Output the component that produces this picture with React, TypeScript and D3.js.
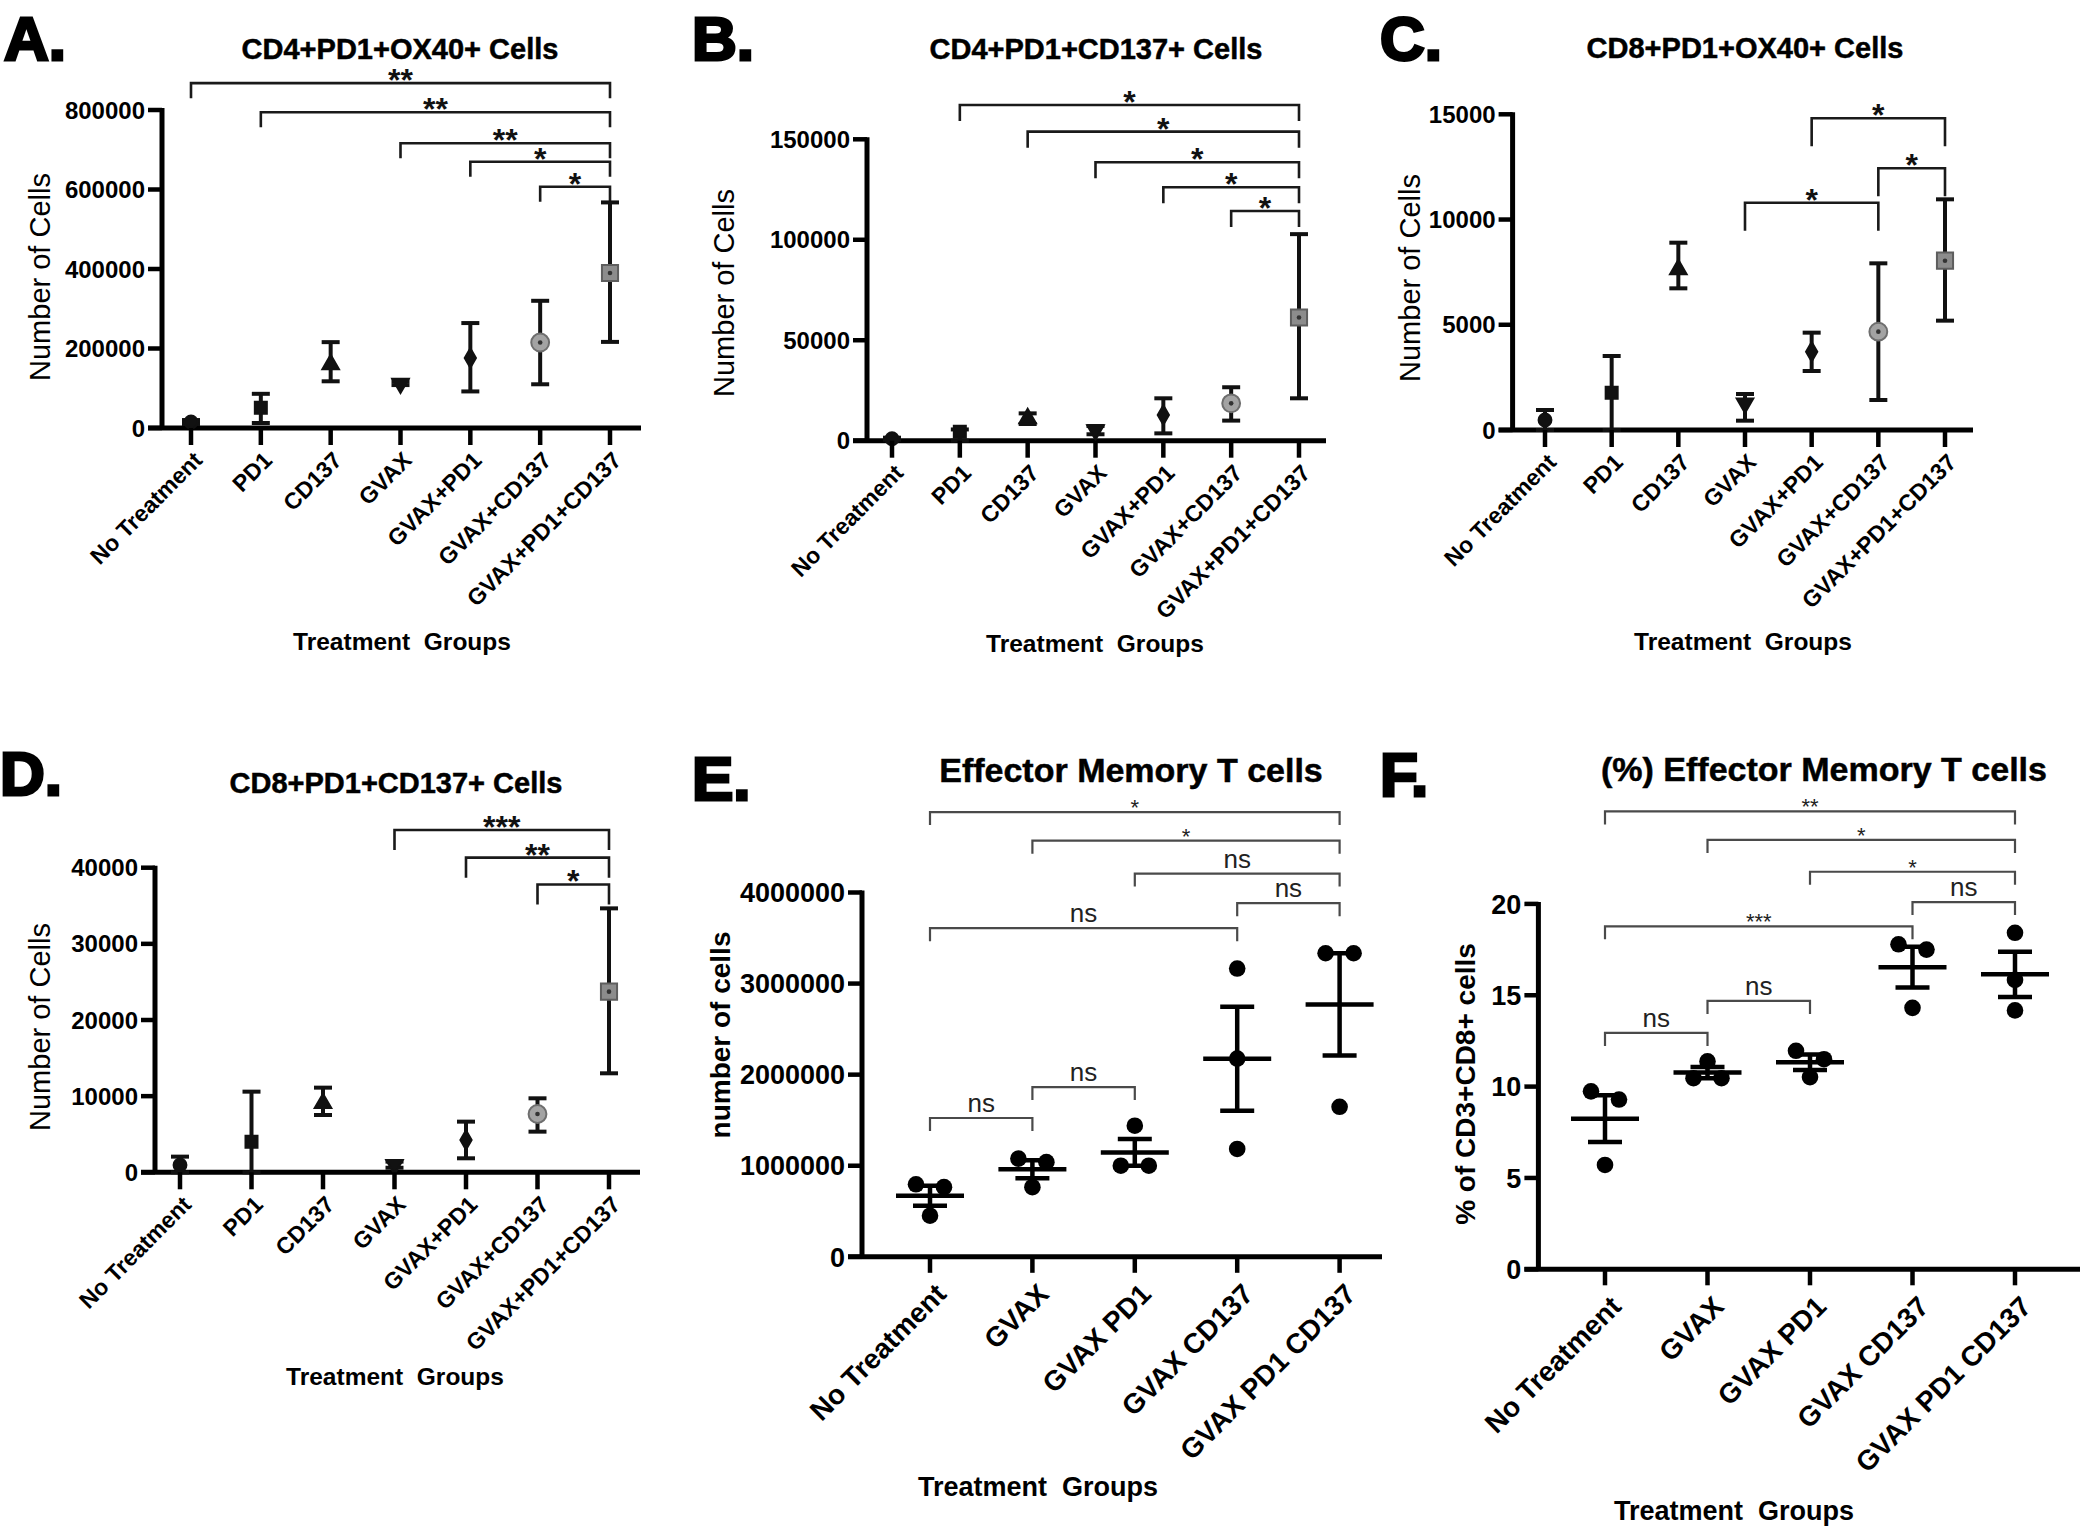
import React from "react";
import * as d3 from "d3";

const FONT = "'Liberation Sans', Arial, Helvetica, sans-serif";

// ---------- categories ----------
const groups7 = ["No Treatment", "PD1", "CD137", "GVAX", "GVAX+PD1", "GVAX+CD137", "GVAX+PD1+CD137"];
const groups5 = ["No Treatment", "GVAX", "GVAX PD1", "GVAX CD137", "GVAX PD1 CD137"];

// ---------- Panel A: CD4+PD1+OX40+ ----------
const aMean = [15000, 51000, 160000, 112000, 176000, 215000, 390000];
const aLow = [10000, 12600, 117500, 108000, 92000, 110000, 216600];
const aHigh = [20000, 86000, 216000, 118000, 264000, 320000, 567500];
const aTicks = [0, 200000, 400000, 600000, 800000];
const aBrackets: [number, number, string, number][] = [
  [0, 6, "**", 867500], [1, 6, "**", 794500], [3, 6, "**", 716400], [4, 6, "*", 670000], [5, 6, "*", 607000],
];

// ---------- Panel B: CD4+PD1+CD137+ ----------
const bMean = [1000, 4500, 11100, 5300, 12800, 18600, 61300];
const bLow = [500, 0, 8300, 3200, 3650, 10000, 21100];
const bHigh = [1500, 5600, 13600, 7300, 21100, 26600, 102800];
const bTicks = [0, 50000, 100000, 150000];
const bBrackets: [number, number, string, number][] = [
  [1, 6, "*", 167100], [2, 6, "*", 153800], [3, 6, "*", 138600], [4, 6, "*", 126100], [5, 6, "*", 114300],
];

// ---------- Panel C: CD8+PD1+OX40+ ----------
const cMean = [475, 1774, 7634, 1267, 3722, 4672, 8045];
const cLow = [0, 0, 6731, 443, 2803, 1425, 5195];
const cHigh = [950, 3516, 8900, 1710, 4625, 7919, 10960];
const cTicks = [0, 5000, 10000, 15000];
const cBrackets: [number, number, string, number][] = [
  [4, 6, "*", 14810], [5, 6, "*", 12434], [3, 5, "*", 10800],
];

// ---------- Panel D: CD8+PD1+CD137+ ----------
const dMean = [963, 4026, 9060, 1000, 4245, 7659, 23720];
const dLow = [0, 0, 7527, 600, 1838, 5339, 13000];
const dHigh = [2057, 10590, 11116, 1400, 6652, 9716, 34660];
const dTicks = [0, 10000, 20000, 30000, 40000];
const dBrackets: [number, number, string, number][] = [
  [3, 6, "***", 44950], [4, 6, "**", 41320], [5, 6, "*", 37800],
];

// ---------- Panel E: Effector Memory T cells (counts) ----------
const eNoTreatment = [796000, 765000, 451000];
const eGvax = [1078000, 1039000, 765000];
const eGvaxPd1 = [1439000, 1000000, 1000000];
const eGvaxCd137 = [3165000, 2176000, 1184000];
const eGvaxPd1Cd137 = [3333000, 3333000, 1647000];
const eTicks = [0, 1000000, 2000000, 3000000, 4000000];
const eBrackets: [number, number, string, number][] = [
  [0, 4, "*", 4883000], [1, 4, "*", 4569000], [2, 4, "ns", 4208000], [3, 4, "ns", 3883000],
  [0, 3, "ns", 3608000], [1, 2, "ns", 1864000], [0, 1, "ns", 1524000],
];

// ---------- Panel F: (%) Effector Memory T cells ----------
const fNoTreatment = [9.74, 9.29, 5.71];
const fGvax = [11.38, 10.46, 10.46];
const fGvaxPd1 = [11.96, 11.5, 10.52];
const fGvaxCd137 = [17.79, 17.5, 14.31];
const fGvaxPd1Cd137 = [18.42, 15.84, 14.17];
const fTicks = [0, 5, 10, 15, 20];
const fBrackets: [number, number, string, number][] = [
  [0, 4, "**", 25.06], [1, 4, "*", 23.5], [2, 4, "*", 21.76], [3, 4, "ns", 20.1],
  [0, 3, "***", 18.77], [1, 2, "ns", 14.69], [0, 1, "ns", 12.94],
];

// ---------- layouts ----------
const layoutA = { letter: "A.", letterX: 4, letterY: 60, title: "CD4+PD1+OX40+ Cells", titleX: 400, titleY: 59, x0: 162, y0: 428, yTop: 110, xFirst: 191, xLast: 610, xEnd: 641, ylabX: 40, ylabY: 277, xtX: 402, xtY: 650, leg: 15 };
const layoutB = { letter: "B.", letterX: 692, letterY: 60, title: "CD4+PD1+CD137+ Cells", titleX: 1096, titleY: 59, x0: 867, y0: 440.7, yTop: 139.3, xFirst: 892, xLast: 1299, xEnd: 1326, ylabX: 724, ylabY: 293, xtX: 1095, xtY: 652, leg: 16 };
const layoutC = { letter: "C.", letterX: 1380, letterY: 60, title: "CD8+PD1+OX40+ Cells", titleX: 1745, titleY: 58, x0: 1512.6, y0: 430, yTop: 114.3, xFirst: 1545, xLast: 1945, xEnd: 1973, ylabX: 1410, ylabY: 278, xtX: 1743, xtY: 650, leg: 28 };
const layoutD = { letter: "D.", letterX: 0, letterY: 795, title: "CD8+PD1+CD137+ Cells", titleX: 396, titleY: 793, x0: 155, y0: 1172.3, yTop: 867.7, xFirst: 180, xLast: 609, xEnd: 640, ylabX: 40, ylabY: 1027, xtX: 395, xtY: 1385, leg: 20 };
const layoutE = { letter: "E.", letterX: 692, letterY: 800, title: "Effector Memory T cells", titleX: 1131, titleY: 782, x0: 862, y0: 1256.8, yTop: 892.5, xFirst: 930, xLast: 1339.6, xEnd: 1382, ylabX: 720, ylabY: 1035, ylabel: "number of cells", xtX: 1038, xtY: 1496, leg: 13 };
const layoutF = { letter: "F.", letterX: 1380, letterY: 796, title: "(%) Effector Memory T cells", titleX: 1824, titleY: 781, x0: 1538.4, y0: 1269.3, yTop: 903.9, xFirst: 1605, xLast: 2015, xEnd: 2080, ylabX: 1465, ylabY: 1084, ylabel: "% of CD3+CD8+ cells", xtX: 1734, xtY: 1520, leg: 13 };

const markerStyles = [
  { type: d3.symbolCircle, size: 130, fill: "#111", stroke: "#111", rot: 0, dot: false },
  { type: d3.symbolSquare, size: 144, fill: "#111", stroke: "#111", rot: 0, dot: false },
  { type: d3.symbolTriangle, size: 120, fill: "#111", stroke: "#111", rot: 0, dot: false },
  { type: d3.symbolTriangle, size: 120, fill: "#111", stroke: "#111", rot: 180, dot: false },
  { type: d3.symbolDiamond, size: 110, fill: "#111", stroke: "#111", rot: 0, dot: false },
  { type: d3.symbolCircle, size: 250, fill: "#a3a3a3", stroke: "#6e6e6e", rot: 0, dot: true },
  { type: d3.symbolSquare, size: 260, fill: "#8c8c8c", stroke: "#5e5e5e", rot: 0, dot: true },
];

function PanelFrame({ L, ticks, y, big }: any) {
  const tickFs = big ? 27 : 24;
  return (
    <g>
      <text x={L.letterX} y={L.letterY} fontSize={62} fontWeight={900} fill="#000" stroke="#000" strokeWidth={3}>{L.letter}</text>
      <text x={L.titleX} y={L.titleY} fontSize={big ? 34 : 29} fontWeight="bold" textAnchor="middle"
        stroke="#000" strokeWidth={0.5}>{L.title}</text>
      <line x1={L.x0} x2={L.x0} y1={L.y0} y2={L.yTop - 2} stroke="#000" strokeWidth={5} />
      <line x1={L.x0 - 14} x2={L.xEnd} y1={L.y0} y2={L.y0} stroke="#000" strokeWidth={5} />
      {ticks.map((t: number) => (
        <g key={t}>
          <line x1={L.x0 - 14} x2={L.x0} y1={y(t)} y2={y(t)} stroke="#000" strokeWidth={4.5} />
          <text x={L.x0 - 17} y={y(t)} dy="0.36em" fontSize={tickFs} fontWeight="bold" textAnchor="end">{d3.format("d")(t)}</text>
        </g>
      ))}
      <text transform={`translate(${L.ylabX},${L.ylabY}) rotate(-90)`} textAnchor="middle" dy="0.35em"
        fontSize={big ? 28 : 29} fontWeight={big ? "bold" : "normal"}>{L.ylabel || "Number of Cells"}</text>
      <text x={L.xtX} y={L.xtY} fontSize={big ? 27 : 24.5} fontWeight="bold" textAnchor="middle" style={{ whiteSpace: "pre" }}>{"Treatment  Groups"}</text>
    </g>
  );
}

function Brackets({ list, x, y, L, big, cats }: any) {
  return (
    <g>
      {list.map((b: any, i: number) => {
        const xl = x(cats[b[0]]);
        const xr = x(cats[b[1]]);
        const yb = y(b[3]);
        const isNs = b[2] === "ns";
        return (
          <g key={i}>
            <path d={`M${xl},${yb + L.leg}V${yb}H${xr}V${yb + L.leg}`} fill="none"
              stroke={big ? "#4a4a4a" : "#1a1a1a"} strokeWidth={big ? 2.2 : 2.6} />
            {big ? (
              <text x={(xl + xr) / 2} y={isNs ? yb - 6 : yb + 3} textAnchor="middle"
                fontSize={isNs ? 26 : 22} fill="#222">{b[2]}</text>
            ) : (
              <text x={(xl + xr) / 2} y={yb + 8} textAnchor="middle" fontSize={32} fontWeight="bold" fill="#111">{b[2]}</text>
            )}
          </g>
        );
      })}
    </g>
  );
}

function SummaryPanel({ L, means, lows, highs, ticks, brackets }: any) {
  const x = d3.scalePoint<string>().domain(groups7).range([L.xFirst, L.xLast]);
  const y = d3.scaleLinear().domain([0, ticks[ticks.length - 1]]).range([L.y0, L.yTop]);
  return (
    <g>
      <PanelFrame L={L} ticks={ticks} y={y} big={false} />
      <Brackets list={brackets} x={x} y={y} L={L} big={false} cats={groups7} />
      {groups7.map((g, i) => {
        const cx = x(g)!;
        const m = markerStyles[i];
        const path = d3.symbol().type(m.type).size(m.size)()!;
        return (
          <g key={g}>
            <line x1={cx} x2={cx} y1={y(lows[i])} y2={y(highs[i])} stroke="#111" strokeWidth={4} />
            <line x1={cx - 9} x2={cx + 9} y1={y(lows[i])} y2={y(lows[i])} stroke="#111" strokeWidth={4} />
            <line x1={cx - 9} x2={cx + 9} y1={y(highs[i])} y2={y(highs[i])} stroke="#111" strokeWidth={4} />
            <path d={path} transform={`translate(${cx},${y(means[i])}) rotate(${m.rot})`} fill={m.fill} stroke={m.stroke} strokeWidth={2} />
            {m.dot && <circle cx={cx} cy={y(means[i])} r={2.3} fill="#333" />}
          </g>
        );
      })}
      {groups7.map((g) => {
        const cx = x(g)!;
        return (
          <g key={"t" + g}>
            <line x1={cx} x2={cx} y1={L.y0} y2={L.y0 + 17} stroke="#000" strokeWidth={4.5} />
            <text transform={`translate(${cx + 7},${L.y0 + 28}) rotate(-45)`} textAnchor="end" dy="0.35em"
              fontSize={23} fontWeight="bold">{g}</text>
          </g>
        );
      })}
    </g>
  );
}

function spread(values: number[], y: (v: number) => number) {
  // horizontal offsets for points that overlap vertically (higher value to the left)
  const order = values.map((v, i) => i).sort((a, b) => values[b] - values[a]);
  const offsets = new Array(values.length).fill(0);
  let cluster: number[] = [order[0]];
  const flush = () => {
    const n = cluster.length;
    cluster.forEach((idx, k) => { offsets[idx] = (k - (n - 1) / 2) * 28; });
  };
  for (let k = 1; k < order.length; k++) {
    const prev = order[k - 1], cur = order[k];
    if (Math.abs(y(values[prev]) - y(values[cur])) < 16) cluster.push(cur);
    else { flush(); cluster = [cur]; }
  }
  flush();
  return offsets;
}

function ScatterPanel({ L, series, ticks, brackets }: any) {
  const x = d3.scalePoint<string>().domain(groups5).range([L.xFirst, L.xLast]);
  const y = d3.scaleLinear().domain([0, ticks[ticks.length - 1]]).range([L.y0, L.yTop]);
  return (
    <g>
      <PanelFrame L={L} ticks={ticks} y={y} big={true} />
      <Brackets list={brackets} x={x} y={y} L={L} big={true} cats={groups5} />
      {groups5.map((g, i) => {
        const cx = x(g)!;
        const vals: number[] = series[i];
        const mean = d3.mean(vals)!;
        const sem = d3.deviation(vals)! / Math.sqrt(vals.length);
        const offs = spread(vals, y);
        return (
          <g key={g}>
            {vals.map((v, k) => (
              <circle key={k} cx={cx + offs[k]} cy={y(v)} r={8.3} fill="#000" />
            ))}
            <line x1={cx - 34} x2={cx + 34} y1={y(mean)} y2={y(mean)} stroke="#000" strokeWidth={4.5} />
            <line x1={cx} x2={cx} y1={y(mean - sem)} y2={y(mean + sem)} stroke="#000" strokeWidth={4.5} />
            <line x1={cx - 17} x2={cx + 17} y1={y(mean - sem)} y2={y(mean - sem)} stroke="#000" strokeWidth={4.5} />
            <line x1={cx - 17} x2={cx + 17} y1={y(mean + sem)} y2={y(mean + sem)} stroke="#000" strokeWidth={4.5} />
            <line x1={cx} x2={cx} y1={L.y0} y2={L.y0 + 16} stroke="#000" strokeWidth={4.5} />
            <text transform={`translate(${cx + 11},${L.y0 + 32}) rotate(-45)`} textAnchor="end" dy="0.35em"
              fontSize={28} fontWeight="bold">{g}</text>
          </g>
        );
      })}
    </g>
  );
}

export default function App() {
  return (
    <svg width={2100} height={1536} viewBox="0 0 2100 1536"
      style={{ position: "absolute", left: 0, top: 0, background: "#fff", display: "block" }}
      fontFamily={FONT}>
      <rect width={2100} height={1536} fill="#fff" />
      <SummaryPanel L={layoutA} means={aMean} lows={aLow} highs={aHigh} ticks={aTicks} brackets={aBrackets} />
      <SummaryPanel L={layoutB} means={bMean} lows={bLow} highs={bHigh} ticks={bTicks} brackets={bBrackets} />
      <SummaryPanel L={layoutC} means={cMean} lows={cLow} highs={cHigh} ticks={cTicks} brackets={cBrackets} />
      <SummaryPanel L={layoutD} means={dMean} lows={dLow} highs={dHigh} ticks={dTicks} brackets={dBrackets} />
      <ScatterPanel L={layoutE} series={[eNoTreatment, eGvax, eGvaxPd1, eGvaxCd137, eGvaxPd1Cd137]} ticks={eTicks} brackets={eBrackets} />
      <ScatterPanel L={layoutF} series={[fNoTreatment, fGvax, fGvaxPd1, fGvaxCd137, fGvaxPd1Cd137]} ticks={fTicks} brackets={fBrackets} />
    </svg>
  );
}
